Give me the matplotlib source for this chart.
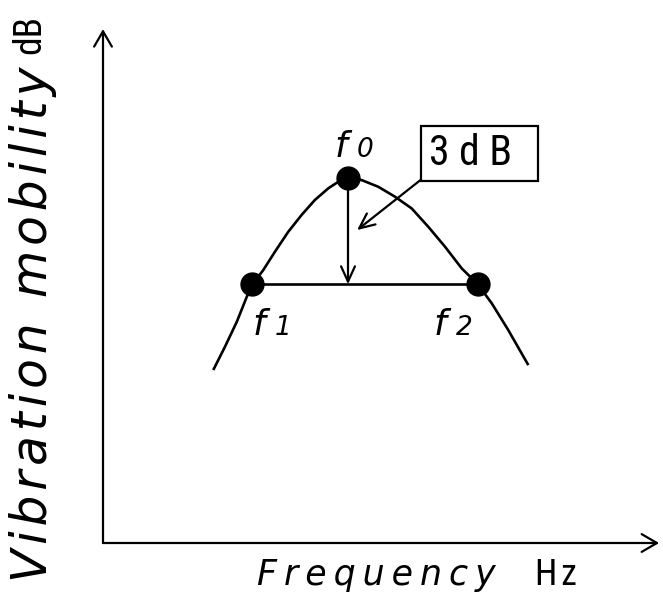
"""Resonance curve of vibration mobility with the half-power (-3 dB) bandwidth."""
import matplotlib
matplotlib.use('Agg')
import matplotlib.pyplot as plt

# resonance curve: frequency (Hz) vs vibration mobility (dB above axis origin)
freq=[45,49.8,54.6,58.7,61,65.4,70.2,75.6,81.1,86.5,92,96,100,
      105.6,112.4,119.2,126,132.8,139.6,146.4,153,158.7,165.4,173.6]
mobility=[4.88,5.54,6.24,6.95,7.3,7.7,8.22,8.78,9.26,9.68,10.01,10.19,10.3,
          10.24,10.05,9.77,9.44,8.92,8.36,7.75,7.3,6.76,6.01,5.02]
# resonance and half-power points
f0,f1,f2=100,61,153
peak_db=10.3;drop_db=3.0
half_db=peak_db-drop_db
point_names=['0','1','2']
drop_label='3 d B  '
x_name,x_unit='Frequency','H\u200az'
y_name,y_unit='Vibration mobility','dB'

# page geometry: origin of the axes in pixels and pixels per unit
W,H=663,596;X0,Y0=103,543;PX_HZ,PX_DB=2.45,35.44
x_end,y_end=227,14.5
NARROW=['Roboto Condensed','DejaVu Sans']

fig=plt.figure(figsize=(W/100,H/100),dpi=100)
ax=fig.add_axes([0,0,1,1]);ax.set_axis_off()
ax.set_xlim(-X0/PX_HZ,(W-X0)/PX_HZ);ax.set_ylim((Y0-H)/PX_DB,Y0/PX_DB)

def arrow(hw=.3):
    return dict(arrowstyle=f'->,head_length=0.55,head_width={hw}',mutation_scale=20,lw=1.6,color='black',
                shrinkA=0,shrinkB=0)

ax.annotate('',xy=(0,y_end),xytext=(0,0),arrowprops=arrow(.32))
ax.annotate('',xy=(x_end,0),xytext=(0,0),arrowprops=arrow(.32))

ax.plot(freq,mobility,color='black',lw=1.9,solid_joinstyle='round',solid_capstyle='butt')
ax.plot([f1,f2],[half_db,half_db],color='black',lw=1.9)
ax.annotate('',xy=(f0,half_db),xytext=(f0,peak_db),arrowprops=arrow(.25))
ax.plot([f0,f1,f2],[peak_db,half_db,half_db],'o',color='black',ms=16.5,zorder=5)

# point names f0, f1, f2: italic f with a small digit on the same baseline
for (x,y),sub,(dx,dy) in zip([(f0,peak_db),(f1,half_db),(f2,half_db)],point_names,[(-13,21),(0,-51),(-44,-51)]):
    ax.annotate('f',xy=(x,y),xytext=(dx,dy),textcoords='offset pixels',ha='left',va='baseline',
                fontsize=26,style='italic')
    ax.annotate(sub,xy=(x,y),xytext=(dx+22,dy),textcoords='offset pixels',ha='left',va='baseline',
                fontsize=19,style='italic')

# 3 dB callout
ax.annotate(drop_label,xy=(f0+3.7,peak_db-1.47),xytext=(153.7,11.0),ha='center',va='center',
            family=NARROW,fontsize=30,
            bbox=dict(boxstyle='square,pad=0.17',fc='white',ec='black',lw=1.6),
            arrowprops=dict(arrow(.25),relpos=(0,0)))

# axis names, letter-spaced italics with upright units
thin,hair='\u2009','\u200a'
fig.text(257/W,1-585/H,thin.join(x_name),fontsize=25,style='italic',va='baseline',ha='left')
fig.text(535/W,1-585/H,x_unit,fontsize=26,family=NARROW,va='baseline',ha='left')
fig.text(33/W,1-582/H,hair.join(y_name),fontsize=35,style='italic',rotation=90,ha='center',va='bottom')
fig.text(30/W,1-15/H,y_unit,fontsize=27,family=NARROW,rotation=90,ha='center',va='top')

fig.savefig('out.png',dpi=100)
